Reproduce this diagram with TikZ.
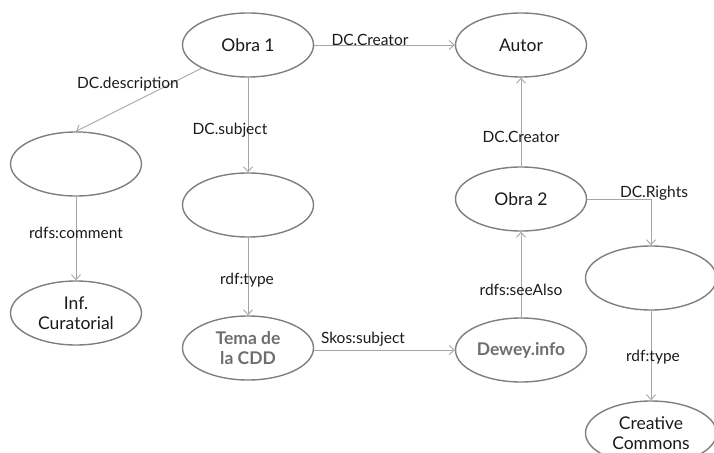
\documentclass[tikz,border=0pt]{standalone}
\usepackage{fontspec}
\setmainfont{Lato}
\usetikzlibrary{shapes.geometric,arrows.meta}
\definecolor{ringgray}{HTML}{7F7F7F}
\definecolor{edgegray}{HTML}{A6A6A6}
\definecolor{boldgray}{HTML}{6E6E6E}
\definecolor{txt}{HTML}{1A1A1A}
\tikzset{
  ent/.style={ellipse, draw=ringgray, line width=1.4pt, minimum width=131pt, minimum height=64pt, inner sep=0pt, align=center, text=txt, font=\fontsize{17.5}{20}\selectfont},
  hl/.style={text=boldgray, font=\fontsize{17.5}{20}\selectfont\bfseries},
  rel/.style={draw=edgegray, line width=0.9pt, -{Straight Barb[length=5pt,width=9pt]}},
  lbl/.style={text=txt, font=\fontsize{15.5}{18}\selectfont, inner sep=0pt}
}
\begin{document}
\begin{tikzpicture}[x=1pt,y=-1pt]
\useasboundingbox (0,0) rectangle (714,452);
\clip (0,0) rectangle (714,452);
\node[ent] (o1) at (248,45) {Obra 1};
\node[ent] (autor) at (521,45) {Autor};
\node[ent] (e1) at (76,164) {};
\node[ent] (e2) at (248,205) {};
\node[ent] (inf) at (76,313) {Inf.\\Curatorial};
\node[ent, hl] (tema) at (248,348) {Tema de\\la CDD};
\node[ent, hl] (dewey) at (521,350) {Dewey.info};
\node[ent] (o2) at (521,199) {Obra 2};
\node[ent] (e3) at (651,278) {};
\node[ent] (cc) at (651,433) {Creative\\Commons};
\coordinate (bend) at (e3.north |- o2.east);

\draw[rel] (o1) -- (e1.north);
\draw[rel] (o1.south) -- (e2.north);
\draw[rel] (o1.east) -- (autor.west);
\draw[rel] (e1.south) -- (inf.north);
\draw[rel] (e2.south) -- (tema.north);
\draw[rel] (tema.east |- dewey.west) -- (dewey.west);
\draw[rel] (dewey.north) -- (o2.south);
\draw[rel] (o2.north) -- (autor.south);
\draw[rel] (o2.east) -- (bend) -- (e3.north);
\draw[rel] (e3.south) -- (cc.north);

\node[lbl] (l1) at (128,84) {DC.description};
\node[lbl] (l2) at (230,130) {DC.subject};
\node[lbl] (l3) at (370,40) {DC.Creator};
\node[lbl] (l4) at (76,233) {rdfs:comment};
\node[lbl] (l5) at (247,280) {rdf:type};
\node[lbl] (l6) at (363,339) {Skos:subject};
\node[lbl] (l7) at (521,290) {rdfs:seeAlso};
\node[lbl] (l8) at (521,137) {DC.Creator};
\node[lbl] (l9) at (654,193) {DC.Rights};
\node[lbl] (l10) at (653,357) {rdf:type};
\end{tikzpicture}
\end{document}
